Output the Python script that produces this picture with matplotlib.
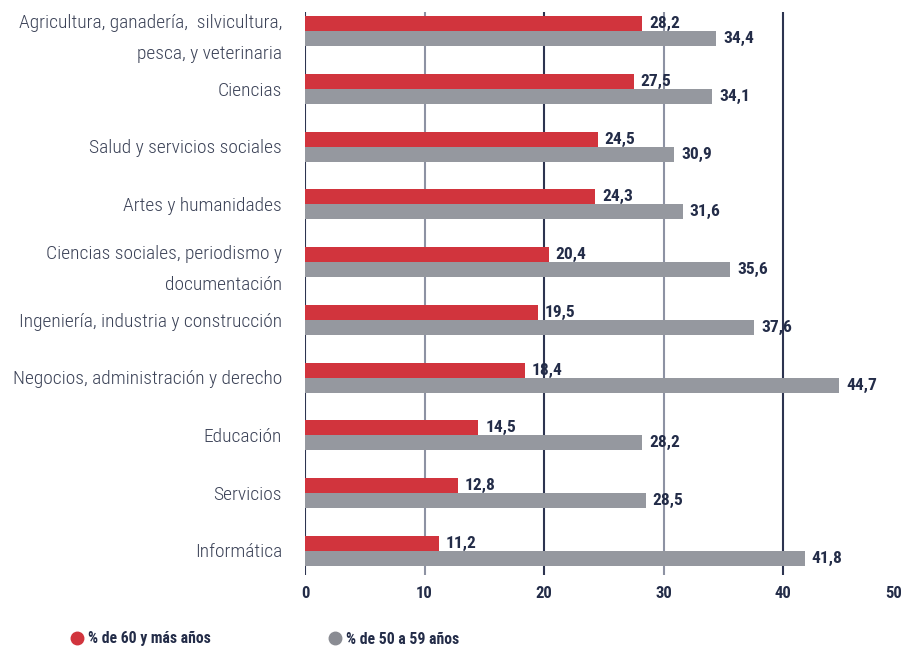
import matplotlib.pyplot as plt
from matplotlib.lines import Line2D
from matplotlib.transforms import blended_transform_factory

categorias = ["Agricultura, ganadería,  silvicultura,\npesca, y veterinaria",
              "Ciencias",
              "Salud y servicios sociales",
              "Artes y humanidades",
              "Ciencias sociales, periodismo y\ndocumentación",
              "Ingeniería, industria y construcción",
              "Negocios, administración y derecho",
              "Educación",
              "Servicios",
              "Informática"]
mas_60 = [28.2, 27.5, 24.5, 24.3, 20.4, 19.5, 18.4, 14.5, 12.8, 11.2]
de_50_59 = [34.4, 34.1, 30.9, 31.6, 35.6, 37.6, 44.7, 28.2, 28.5, 41.8]
ticks_x = [0, 10, 20, 30, 40, 50]
leyenda = ["% de 60 y más años", "% de 50 a 59 años"]

rojo = "#d1343d"
gris = "#95989f"
azul = "#232c48"
fuente = ["Roboto Condensed", "Archivo Narrow", "Liberation Sans", "DejaVu Sans"]

fig = plt.figure(figsize=(9.07, 6.47), dpi=100)
ax = fig.add_axes([305/907, 1-575/647, 597.5/907, (575-12)/647])

y = list(range(len(categorias)))
h = 0.26
ax.barh([i - h/2 for i in y], mas_60, height=h, color=rojo, zorder=3)
ax.barh([i + h/2 for i in y], de_50_59, height=h, color=gris, zorder=3)

for i in y:
    ax.annotate(f"{mas_60[i]:.1f}".replace(".", ","), (mas_60[i], i - h/2),
                xytext=(5, 0), textcoords="offset points", va="center",
                fontsize=12.5, fontweight="bold", color=azul, family=fuente)
    ax.annotate(f"{de_50_59[i]:.1f}".replace(".", ","), (de_50_59[i], i + h/2),
                xytext=(5, 0), textcoords="offset points", va="center",
                fontsize=12.5, fontweight="bold", color=azul, family=fuente)

# nombres de las categorias (las de dos lineas un poco mas abajo)
trans = blended_transform_factory(ax.transAxes, ax.transData)
for i, c in enumerate(categorias):
    extra = 0.13 if "\n" in c else 0.03
    ax.text(-23/597.5, i + extra, c, transform=trans, ha="right", va="center",
            fontsize=14, fontweight="light", color="#3b4257", family=fuente,
            linespacing=1.9, multialignment="right")

# lineas verticales alternando oscuro / gris
for k, t in enumerate(ticks_x[:-1]):
    ax.axvline(t, color="#2d3450" if k % 2 == 0 else "#8d92a3", lw=1.5, zorder=1)

ax.set_xlim(0, 50)
ax.set_ylim(9.42, -0.33)
ax.set_xticks(ticks_x)
ax.set_xticklabels([str(t) for t in ticks_x], fontsize=12, fontweight="bold",
                   color=azul, family=fuente)
ax.get_xticklabels()[-1].set_ha("right")
ax.set_yticks([])
ax.tick_params(axis="x", length=0, pad=8)
for s in ax.spines.values():
    s.set_visible(False)

handles = [Line2D([], [], marker="o", ls="", color=rojo, markersize=9),
           Line2D([], [], marker="o", ls="", color="#8a8c93", markersize=9)]
fig.legend(handles, leyenda, ncol=2, loc="center left",
           bbox_to_anchor=(63/907, 1-639/647), frameon=False, borderpad=0,
           handlelength=0.8, handletextpad=0.3, columnspacing=7.5,
           prop={"family": fuente, "weight": "bold", "size": 11.3},
           labelcolor=azul)

fig.savefig("out.png", dpi=100)
